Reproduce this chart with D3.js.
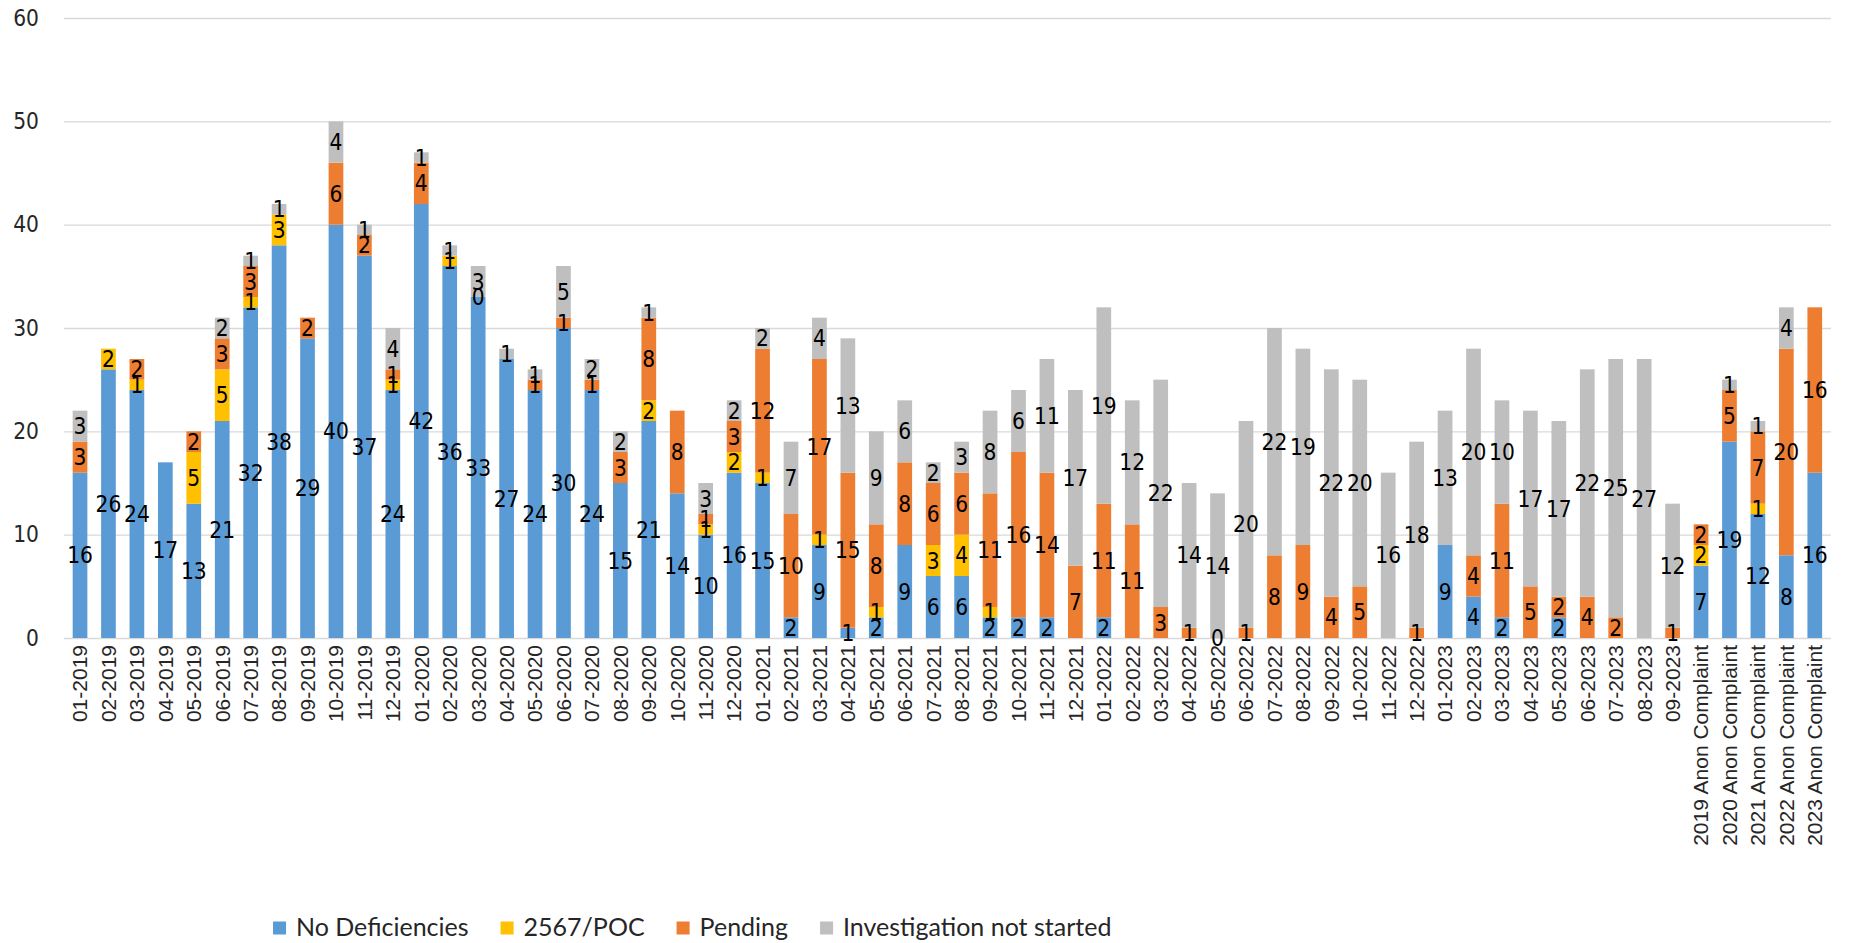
<!DOCTYPE html>
<html>
<head>
<meta charset="utf-8">
<script src="https://cdn.jsdelivr.net/npm/d3@7"></script>
<style>
  body { margin: 0; background: #fff; }
</style>
</head>
<body>
<div id="chart"></div>
<script>
// chart data (null = no value / no label)
const categories = [
  "01-2019", "02-2019", "03-2019", "04-2019", "05-2019", "06-2019", "07-2019", "08-2019", "09-2019", "10-2019", "11-2019", "12-2019",
  "01-2020", "02-2020", "03-2020", "04-2020", "05-2020", "06-2020", "07-2020", "08-2020", "09-2020", "10-2020", "11-2020", "12-2020",
  "01-2021", "02-2021", "03-2021", "04-2021", "05-2021", "06-2021", "07-2021", "08-2021", "09-2021", "10-2021", "11-2021", "12-2021",
  "01-2022", "02-2022", "03-2022", "04-2022", "05-2022", "06-2022", "07-2022", "08-2022", "09-2022", "10-2022", "11-2022", "12-2022",
  "01-2023", "02-2023", "03-2023", "04-2023", "05-2023", "06-2023", "07-2023", "08-2023", "09-2023",
  "2019 Anon Complaint", "2020 Anon Complaint", "2021 Anon Complaint", "2022 Anon Complaint", "2023 Anon Complaint"
];

const noDeficiencies = [
  16, 26, 24, 17, 13, 21, 32, 38, 29, 40, 37, 24,
  42, 36, 33, 27, 24, 30, 24, 15, 21, 14, 10, 16,
  15, 2, 9, 1, 2, 9, 6, 6, 2, 2, 2, null,
  2, null, null, null, 0, null, null, null, null, null, null, null,
  9, 4, 2, null, 2, null, null, null, null,
  7, 19, 12, 8, 16
];

const poc = [
  null, 2, 1, null, 5, 5, 1, 3, null, null, null, 1,
  null, 1, null, null, null, null, null, null, 2, null, 1, 2,
  1, null, 1, null, 1, null, 3, 4, 1, null, null, null,
  null, null, null, null, null, null, null, null, null, null, null, null,
  null, null, null, null, null, null, null, null, null,
  2, null, 1, null, null
];

const pending = [
  3, null, 2, null, 2, 3, 3, null, 2, 6, 2, 1,
  4, null, 0, null, 1, 1, 1, 3, 8, 8, 1, 3,
  12, 10, 17, 15, 8, 8, 6, 6, 11, 16, 14, 7,
  11, 11, 3, 1, null, 1, 8, 9, 4, 5, null, 1,
  null, 4, 11, 5, 2, 4, 2, null, 1,
  2, 5, 7, 20, 16
];

const notStarted = [
  3, null, null, null, null, 2, 1, 1, null, 4, 1, 4,
  1, 1, 3, 1, 1, 5, 2, 2, 1, null, 3, 2,
  2, 7, 4, 13, 9, 6, 2, 3, 8, 6, 11, 17,
  19, 12, 22, 14, 14, 20, 22, 19, 22, 20, 16, 18,
  13, 20, 10, 17, 17, 22, 25, 27, 12,
  null, 1, 1, 4, null
];

const seriesNames = ["No Deficiencies", "2567/POC", "Pending", "Investigation not started"];
const seriesColors = ["#5B9BD5", "#FFC000", "#ED7D31", "#BFBFBF"];
const yTicks = [0, 10, 20, 30, 40, 50, 60];

const width = 1850;
const height = 943;

const plotLeft = 65.8;
const plotRight = 1829;
const plotTop = 18;
const plotBottom = 638;

const numberFont = "'DejaVu Sans Condensed', 'DejaVu Sans', Verdana, sans-serif";

const svg = d3.select("#chart").append("svg")
  .attr("width", width)
  .attr("height", height)
  .style("font-family", numberFont);

// one row per category, stacked in series order
const keys = ["noDef", "poc", "pending", "notStarted"];
const rows = categories.map((c, i) => ({
  category: c,
  noDef: noDeficiencies[i],
  poc: poc[i],
  pending: pending[i],
  notStarted: notStarted[i]
}));
const stacked = d3.stack().keys(keys).value((d, k) => d[k] ?? 0)(rows);

const x = d3.scaleBand()
  .domain(categories)
  .range([plotLeft, plotRight])
  .paddingInner(0.483)
  .paddingOuter(0.2415);

const y = d3.scaleLinear()
  .domain([0, 60])
  .range([plotBottom, plotTop]);

// y axis with gridlines
const yAxisG = svg.append("g")
  .attr("transform", `translate(64, 0)`)
  .call(d3.axisLeft(y).tickValues(yTicks).tickSize(-(1831 - 64)).tickPadding(25));
yAxisG.select(".domain").remove();
yAxisG.selectAll(".tick line").attr("stroke", "#D9D9D9").attr("stroke-width", 1.3);
yAxisG.selectAll(".tick text")
  .attr("fill", "#262626")
  .style("font-size", "22.5px")
  .style("font-family", numberFont);

// bars
svg.append("g")
  .selectAll("g")
  .data(stacked)
  .join("g")
    .attr("fill", (d, i) => seriesColors[i])
  .selectAll("rect")
  .data(d => d)
  .join("rect")
    .attr("x", d => x(d.data.category))
    .attr("y", d => y(d[1]))
    .attr("width", x.bandwidth())
    .attr("height", d => y(d[0]) - y(d[1]));

// data labels, centred in each segment
const labelData = [];
stacked.forEach(s => {
  s.forEach(d => {
    const v = d.data[s.key];
    if (v !== null && v !== undefined) labelData.push({ category: d.data.category, mid: (d[0] + d[1]) / 2, value: v });
  });
});

svg.append("g")
  .selectAll("text")
  .data(labelData)
  .join("text")
    .attr("x", d => x(d.category) + x.bandwidth() / 2)
    .attr("y", d => y(d.mid))
    .attr("text-anchor", "middle")
    .attr("dominant-baseline", "central")
    .attr("fill", "#000")
    .style("font-size", "22.5px")
    .text(d => d.value);

// x axis, rotated labels
const xAxisG = svg.append("g")
  .attr("transform", `translate(0, ${plotBottom})`)
  .call(d3.axisBottom(x).tickSize(0));
xAxisG.select(".domain").remove();
xAxisG.selectAll(".tick text")
  .attr("transform", "rotate(-90)")
  .attr("x", -7)
  .attr("y", 0)
  .attr("dy", "0.35em")
  .attr("text-anchor", "end")
  .attr("fill", "#262626")
  .style("font-size", "21px")
  .style("font-family", "'Liberation Sans', Arial, sans-serif");

// legend
const legend = svg.append("g")
  .style("font-family", "Lato, 'Liberation Sans', Arial, sans-serif")
  .style("font-size", "25px");

let lx = 273;
seriesNames.forEach((name, i) => {
  legend.append("rect")
    .attr("x", lx)
    .attr("y", 921.5)
    .attr("width", 13)
    .attr("height", 13)
    .attr("fill", seriesColors[i]);
  const t = legend.append("text")
    .attr("x", lx + 23)
    .attr("y", 936)
    .attr("fill", "#262626")
    .text(name);
  lx += 23 + t.node().getComputedTextLength() + 32;
});
</script>
</body>
</html>
